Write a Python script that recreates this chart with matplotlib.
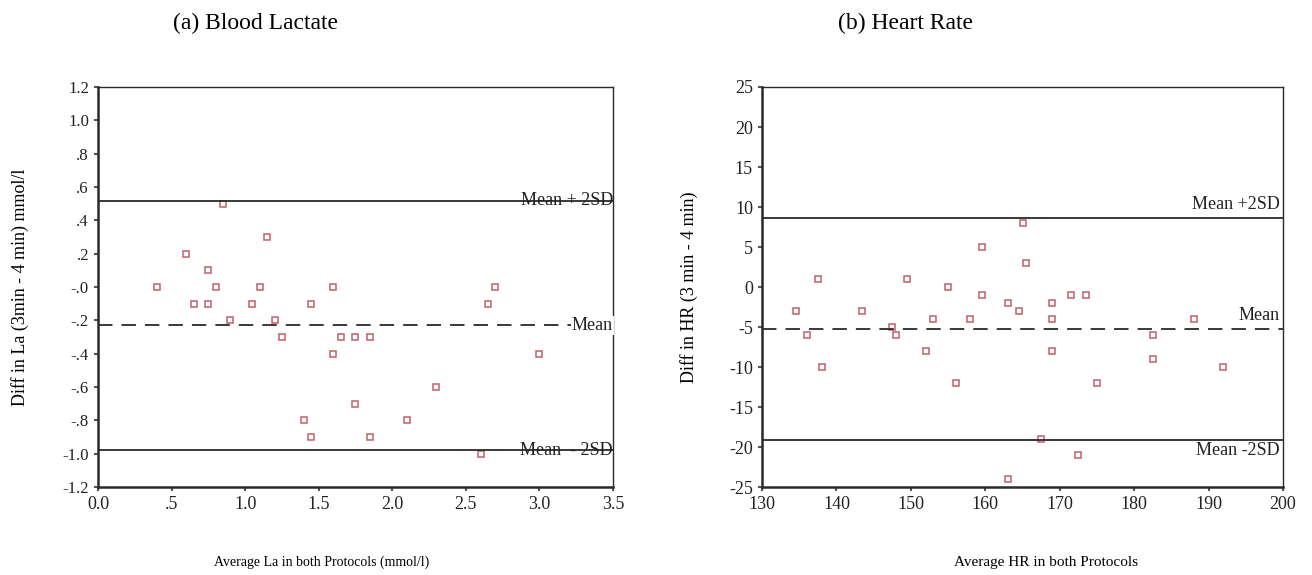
import numpy as np
import matplotlib
matplotlib.use("Agg")
import matplotlib.pyplot as plt

plt.rcParams['font.family'] = ['Liberation Serif', 'DejaVu Serif']

# (a) Blood lactate: average vs difference (3 min - 4 min)
la_avg = [0.85, 1.15, 0.60, 0.75, 0.40, 0.80, 1.10, 1.60, 0.65, 0.75,
          1.05, 1.45, 0.90, 1.20, 1.25, 1.65, 1.60, 1.40, 1.45, 2.70,
          2.65, 1.75, 1.85, 3.00, 2.30, 1.75, 2.10, 1.85, 2.60]
la_diff = [0.5, 0.3, 0.2, 0.1, 0.0, 0.0, 0.0, 0.0, -0.1, -0.1,
           -0.1, -0.1, -0.2, -0.2, -0.3, -0.3, -0.4, -0.8, -0.9, 0.0,
           -0.1, -0.3, -0.3, -0.4, -0.6, -0.7, -0.8, -0.9, -1.0]
la_mean = -0.23
la_upper = 0.518
la_lower = -0.978
la_yticks = [1.2, 1.0, 0.8, 0.6, 0.4, 0.2, 0.0, -0.2, -0.4, -0.6, -0.8, -1.0, -1.2]
la_ylabels = ['1.2', '1.0', '.8', '.6', '.4', '.2', '-.0', '-.2', '-.4', '-.6', '-.8', '-1.0', '-1.2']
la_xticks = [0.0, 0.5, 1.0, 1.5, 2.0, 2.5, 3.0, 3.5]
la_xlabels = ['0.0', '.5', '1.0', '1.5', '2.0', '2.5', '3.0', '3.5']

# (b) Heart rate
hr_avg = [165, 159.5, 165.5, 137.5, 149.5, 155, 159.5, 134.5, 143.5, 147.5,
          148, 136, 153, 158, 163, 164.5, 152, 138, 156, 163,
          169, 169, 169, 171.5, 173.5, 188, 182.5, 182.5, 192, 175,
          167.5, 172.5]
hr_diff = [8, 5, 3, 1, 1, 0, -1, -3, -3, -5,
           -6, -6, -4, -4, -2, -3, -8, -10, -12, -24,
           -2, -4, -8, -1, -1, -4, -6, -9, -10, -12,
           -19, -21]
hr_mean = -5.22
hr_upper = 8.66
hr_lower = -19.1
hr_yticks = [25, 20, 15, 10, 5, 0, -5, -10, -15, -20, -25]
hr_xticks = [130, 140, 150, 160, 170, 180, 190, 200]

point_col = '#c25f68'
line_col = '#2a2a2a'

fig = plt.figure(figsize=(13.12, 5.75), dpi=100)
ax1 = fig.add_axes([0.0747, 0.153, 0.3925, 0.6957])
ax2 = fig.add_axes([0.5808, 0.153, 0.3971, 0.6957])


def style_axes(ax):
    for s in ['left', 'bottom']:
        ax.spines[s].set_linewidth(1.8)
    for s in ['top', 'right']:
        ax.spines[s].set_linewidth(1.0)
    for s in ax.spines.values():
        s.set_color(line_col)
    ax.tick_params(direction='out', length=3, width=1.5, color='#555555',
                   labelcolor='#222222', top=False, right=False)


# left panel
ax1.plot(la_avg, la_diff, linestyle='none', marker='s', markersize=5,
         markerfacecolor='none', markeredgecolor=point_col, markeredgewidth=1.1)
ax1.axhline(la_upper, color=line_col, lw=1.3)
ax1.axhline(la_mean, color=line_col, lw=1.3, ls=(0, (8, 5)))
ax1.axhline(la_lower, color=line_col, lw=1.3)
ax1.set_xlim(0, 3.5)
ax1.set_ylim(-1.2, 1.2)
ax1.set_yticks(la_yticks)
ax1.set_yticklabels(la_ylabels, fontsize=12)
ax1.set_xticks(la_xticks)
ax1.set_xticklabels(la_xlabels, fontsize=13)
ax1.text(3.5, la_upper, 'Mean + 2SD', ha='right', va='center', fontsize=13, color='#222222')
ax1.text(3.5, la_mean, 'Mean', ha='right', va='center', fontsize=13, color='#222222',
         bbox=dict(facecolor='white', edgecolor='none', pad=0.5))
ax1.text(3.5, la_lower, 'Mean  - 2SD', ha='right', va='center', fontsize=13, color='#222222')
style_axes(ax1)

# right panel
ax2.plot(hr_avg, hr_diff, linestyle='none', marker='s', markersize=5,
         markerfacecolor='none', markeredgecolor=point_col, markeredgewidth=1.1)
ax2.axhline(hr_upper, color=line_col, lw=1.3)
ax2.axhline(hr_mean, color=line_col, lw=1.3, ls=(0, (8, 5)))
ax2.axhline(hr_lower, color=line_col, lw=1.3)
ax2.set_xlim(130, 200)
ax2.set_ylim(-25, 25)
ax2.set_yticks(hr_yticks)
ax2.set_yticklabels([str(v) for v in hr_yticks], fontsize=13)
ax2.set_xticks(hr_xticks)
ax2.set_xticklabels([str(v) for v in hr_xticks], fontsize=13)
ax2.text(199.6, hr_upper + 0.6, 'Mean +2SD', ha='right', va='bottom', fontsize=13, color='#222222')
ax2.text(199.6, hr_mean + 0.6, 'Mean', ha='right', va='bottom', fontsize=13, color='#222222')
ax2.text(199.6, hr_lower - 0.3, 'Mean -2SD', ha='right', va='top', fontsize=13, color='#222222')
style_axes(ax2)

ax1.set_ylabel('Diff in La (3min - 4 min) mmol/l', fontsize=13, labelpad=24)
ax2.set_ylabel('Diff in HR (3 min - 4 min)', fontsize=13, labelpad=22)

fig.text(0.245, 0.016, 'Average La in both Protocols (mmol/l)', ha='center', fontsize=10)
fig.text(0.797, 0.016, 'Average HR in both Protocols', ha='center', fontsize=11)
fig.text(0.195, 0.96, '(a) Blood Lactate', ha='center', va='center', fontsize=17)
fig.text(0.690, 0.96, '(b) Heart Rate', ha='center', va='center', fontsize=17)

fig.savefig('out.png', dpi=100, facecolor='white')
